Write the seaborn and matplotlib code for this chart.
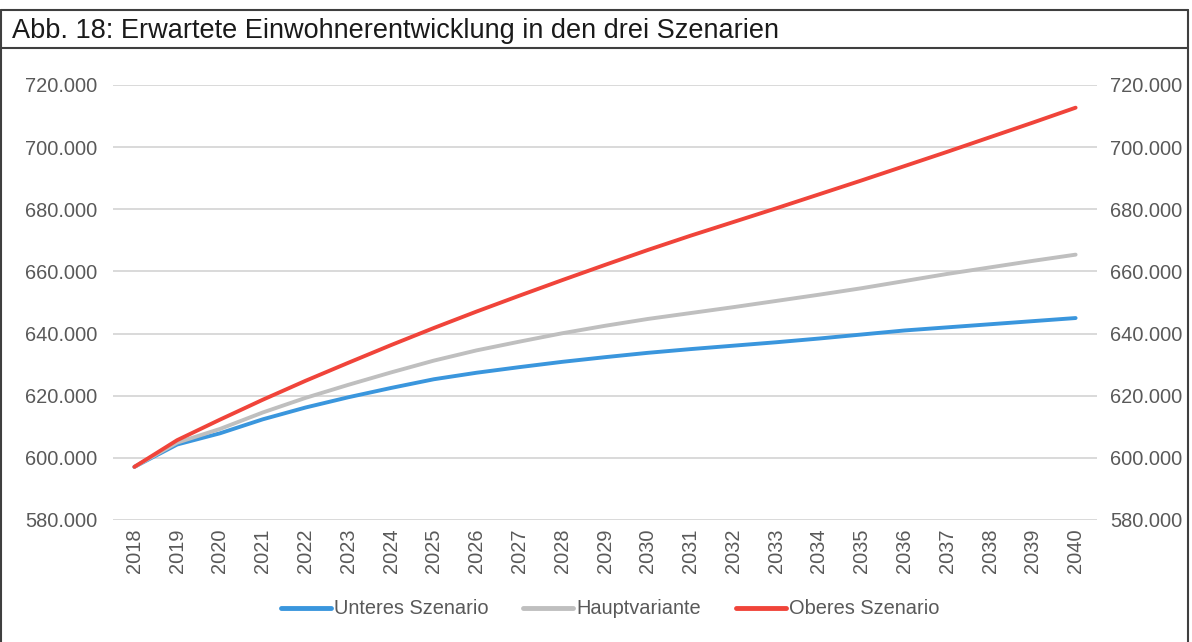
import matplotlib
matplotlib.use("Agg")
import matplotlib.pyplot as plt
import matplotlib.ticker as mticker
from matplotlib.lines import Line2D
import pandas as pd
import seaborn as sns

years = list(range(2018, 2041))
unteres = [597.1, 604.3, 607.9, 612.4, 616.2, 619.5, 622.5, 625.3, 627.4, 629.2, 630.9, 632.4,
           633.8, 635.0, 636.1, 637.2, 638.4, 639.7, 641.0, 642.0, 643.0, 644.0, 645.0]
haupt = [597.1, 604.9, 609.3, 614.6, 619.3, 623.5, 627.5, 631.3, 634.6, 637.4, 640.1, 642.5,
         644.7, 646.6, 648.5, 650.5, 652.5, 654.6, 656.9, 659.2, 661.3, 663.4, 665.4]
oberes = [597.1, 605.7, 612.3, 618.7, 624.8, 630.6, 636.3, 641.8, 647.1, 652.2, 657.2, 662.1,
          666.9, 671.5, 675.9, 680.3, 684.8, 689.3, 693.9, 698.5, 703.2, 707.9, 712.7]
series_names = ["Unteres Szenario", "Hauptvariante", "Oberes Szenario"]
colors = ["#3A96DD", "#BFBFBF", "#F0443A"]

rows = []
for name, vals in zip(series_names, [unteres, haupt, oberes]):
    for i, v in enumerate(vals):
        rows.append({"idx": i, "Einwohner": v * 1000, "Szenario": name})
df = pd.DataFrame(rows)

sns.set_style("white")
plt.rcParams['font.family'] = ['Liberation Sans', 'DejaVu Sans']
text_col = "#595959"
fs = 14.4
de_fmt = mticker.FuncFormatter(lambda v, p: f"{int(v):,}".replace(",", "."))

fig = plt.figure(figsize=(11.92, 6.42), dpi=100)
ax = fig.add_axes([113 / 1192, 1 - 520 / 642, (1097 - 113) / 1192, (520 - 85) / 642])

sns.lineplot(data=df, x="idx", y="Einwohner", hue="Szenario", hue_order=series_names,
             palette=dict(zip(series_names, colors)), linewidth=2.8, ax=ax, legend=False)

ax.set_xlim(-0.5, len(years) - 0.5)
ax.set_ylim(580000, 720000)
ax.yaxis.set_major_locator(mticker.MultipleLocator(20000))
ax.yaxis.set_major_formatter(de_fmt)
ax.set_xticks(range(len(years)))
ax.set_xticklabels([str(y) for y in years], rotation=90)
ax.set_xlabel("")
ax.set_ylabel("")
ax.grid(axis='y', color="#D9D9D9", linewidth=1.4)
ax.set_axisbelow(True)
for s in ax.spines.values():
    s.set_visible(False)

# right-hand value axis (same scale)
ax2 = ax.twinx()
ax2.set_ylim(ax.get_ylim())
ax2.yaxis.set_major_locator(mticker.MultipleLocator(20000))
ax2.yaxis.set_major_formatter(de_fmt)
ax2.tick_params(axis='y', length=0, labelsize=fs, labelcolor=text_col, pad=9.3)
for s in ax2.spines.values():
    s.set_visible(False)

ax.tick_params(axis='y', length=0, labelsize=fs, labelcolor=text_col, pad=11.4)
ax.tick_params(axis='x', length=0, labelsize=fs, labelcolor=text_col, pad=6)

handles = [Line2D([0], [0], color=c, linewidth=3.5) for c in colors]
leg = fig.legend(handles, series_names, loc='center', bbox_to_anchor=(610 / 1192, 1 - 609 / 642),
                 ncol=3, frameon=False, fontsize=fs, handlelength=2.5, handletextpad=0.15,
                 columnspacing=1.75)
for t in leg.get_texts():
    t.set_color(text_col)

# frame and title band
border = "#3F3F3F"
fig.add_artist(Line2D([1 / 1192, 1 / 1192], [0, 1 - 10 / 642], color=border, lw=1.5))
fig.add_artist(Line2D([1188 / 1192, 1188 / 1192], [0, 1 - 10 / 642], color=border, lw=1.5))
fig.add_artist(Line2D([1 / 1192, 1188 / 1192], [1 - 10 / 642, 1 - 10 / 642], color=border, lw=1.5))
fig.add_artist(Line2D([1 / 1192, 1188 / 1192], [1 - 48 / 642, 1 - 48 / 642], color=border, lw=1.5))
fig.text(12 / 1192, 1 - 31 / 642, "Abb. 18: Erwartete Einwohnerentwicklung in den drei Szenarien",
         fontsize=19.5, color="#1A1A1A", va='center', ha='left')

fig.savefig("out.png", dpi=100)
plt.close()
